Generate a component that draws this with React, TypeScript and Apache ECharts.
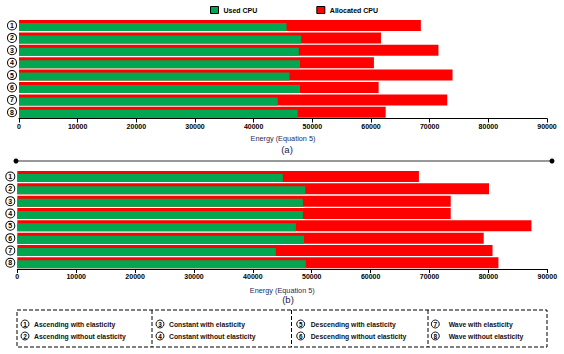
import React, { useEffect, useRef } from "react";
import * as echarts from "echarts";

const categories = ["1", "2", "3", "4", "5", "6", "7", "8"];
const usedA = [45600, 48100, 47700, 47900, 46100, 47900, 44100, 47500];
const allocA = [68500, 61700, 71500, 60500, 73900, 61300, 73000, 62500];
const usedB = [45100, 48900, 48500, 48500, 47300, 48700, 43900, 49000];
const allocB = [68200, 80100, 73600, 73600, 87300, 79200, 80700, 81700];
const scenarioLabels = [
  "Ascending with elasticity",
  "Ascending without elasticity",
  "Constant with elasticity",
  "Constant without elasticity",
  "Descending with elasticity",
  "Descending without elasticity",
  "Wave with elasticity",
  "Wave without elasticity",
];
const axisTitle = "Energy (Equation 5)";

const GREEN = "#00a650";
const RED = "#ff0000";
const FONT = "Liberation Sans, Arial, sans-serif";

export default function App() {
  const ref = useRef<HTMLDivElement>(null);
  useEffect(() => {
    if (!ref.current) return;
    const chart = echarts.init(ref.current, undefined, { renderer: "svg" });

    const xAxisBase = (gridIndex: number, nameGap: number) => ({
      type: "value",
      gridIndex,
      min: 0,
      max: 90000,
      interval: 10000,
      splitLine: { show: false },
      axisLine: { show: true, lineStyle: { color: "#000", width: 1 } },
      axisTick: { show: true, length: 4, lineStyle: { color: "#000" } },
      axisLabel: {
        fontSize: 7,
        fontWeight: "bold",
        color: "#000",
        margin: 4,
        fontFamily: FONT,
        formatter: (v: number) => String(v),
      },
      name: axisTitle,
      nameLocation: "middle",
      nameGap,
      nameTextStyle: { fontSize: 7.3, color: "#1f2b5a", fontFamily: FONT },
    });
    const yAxisBase = (gridIndex: number) => ({
      type: "category",
      gridIndex,
      data: categories,
      inverse: true,
      axisLine: { show: false },
      axisTick: { show: false },
      axisLabel: {
        interval: 0,
        margin: 3,
        formatter: (v: string) => "{c|" + v + "}",
        rich: {
          c: {
            width: 8,
            height: 8,
            lineHeight: 9,
            borderRadius: 5,
            borderColor: "#000",
            borderWidth: 1,
            align: "center",
            verticalAlign: "middle",
            fontSize: 7,
            fontWeight: "bold",
            color: "#000",
            fontFamily: FONT,
            backgroundColor: "#fff",
          },
        },
      },
    });

    const barPair = (xi: number, alloc: number[], used: number[]) => [
      {
        name: "Allocated CPU",
        type: "bar",
        xAxisIndex: xi,
        yAxisIndex: xi,
        data: alloc,
        barWidth: 11,
        barGap: "-72.7%",
        itemStyle: { color: RED },
      },
      {
        name: "Used CPU",
        type: "bar",
        xAxisIndex: xi,
        yAxisIndex: xi,
        data: used,
        barWidth: 8,
        barGap: "-72.7%",
        itemStyle: { color: GREEN },
      },
    ];

    const graphics: any[] = [];
    graphics.push({
      type: "text",
      x: 287,
      y: 149,
      style: { text: "(a)", fontSize: 9.5, fill: "#1a2050", fontFamily: FONT, align: "center", verticalAlign: "middle" },
    });
    graphics.push({
      type: "text",
      x: 288,
      y: 299,
      style: { text: "(b)", fontSize: 9.5, fill: "#1a2050", fontFamily: FONT, align: "center", verticalAlign: "middle" },
    });
    graphics.push({ type: "line", shape: { x1: 16, y1: 161, x2: 552, y2: 161 }, style: { stroke: "#333", lineWidth: 1 } });
    graphics.push({ type: "circle", shape: { cx: 16, cy: 161, r: 2.5 }, style: { fill: "#000" } });
    graphics.push({ type: "circle", shape: { cx: 552, cy: 161, r: 2.5 }, style: { fill: "#000" } });
    const dash = { stroke: "#000", lineWidth: 1, lineDash: [4, 2], fill: "none" };
    graphics.push({ type: "rect", shape: { x: 17, y: 310, width: 530, height: 37 }, style: dash });
    [152, 291.5, 428].forEach((x) => {
      graphics.push({ type: "line", shape: { x1: x, y1: 310, x2: x, y2: 347 }, style: { ...dash } });
    });
    const circleX = [25, 160, 300.7, 435.3];
    const textX = [34, 169, 310.7, 448.7];
    const rowY = [324, 336];
    scenarioLabels.forEach((label, i) => {
      const col = Math.floor(i / 2);
      const row = i % 2;
      const cx = circleX[col];
      const cy = rowY[row];
      graphics.push({ type: "circle", shape: { cx, cy, r: 4 }, style: { fill: "#fff", stroke: "#000", lineWidth: 0.9 } });
      graphics.push({
        type: "text",
        x: cx,
        y: cy + 0.3,
        style: { text: String(i + 1), fontSize: 6.5, fontWeight: "bold", fill: "#000", fontFamily: FONT, align: "center", verticalAlign: "middle" },
      });
      graphics.push({
        type: "text",
        x: textX[col],
        y: cy,
        style: { text: label, fontSize: 6.8, fontWeight: "bold", fill: "#111", fontFamily: FONT, align: "left", verticalAlign: "middle" },
      });
    });

    chart.setOption({
      animation: false,
      backgroundColor: "#fff",
      textStyle: { fontFamily: FONT },
      legend: {
        left: 205,
        top: 1,
        itemWidth: 8,
        itemHeight: 7,
        itemGap: 59,
        icon: "rect",
        data: ["Used CPU", "Allocated CPU"],
        itemStyle: { borderColor: "#000", borderWidth: 1 },
        textStyle: { fontSize: 7, fontWeight: "bold", color: "#000", fontFamily: FONT },
        selectedMode: false,
      },
      grid: [
        { left: 19, width: 528, top: 19.3, height: 99.2 },
        { left: 17.3, width: 530, top: 170.3, height: 98.7 },
      ],
      xAxis: [xAxisBase(0, 16.5), xAxisBase(1, 17.5)],
      yAxis: [yAxisBase(0), yAxisBase(1)],
      series: [...barPair(0, allocA, usedA), ...barPair(1, allocB, usedB)],
      graphic: graphics,
    });
    return () => chart.dispose();
  }, []);
  return (
    <div
      ref={ref}
      style={{ position: "fixed", left: 0, top: 0, width: 564, height: 354, background: "#fff" }}
    />
  );
}
